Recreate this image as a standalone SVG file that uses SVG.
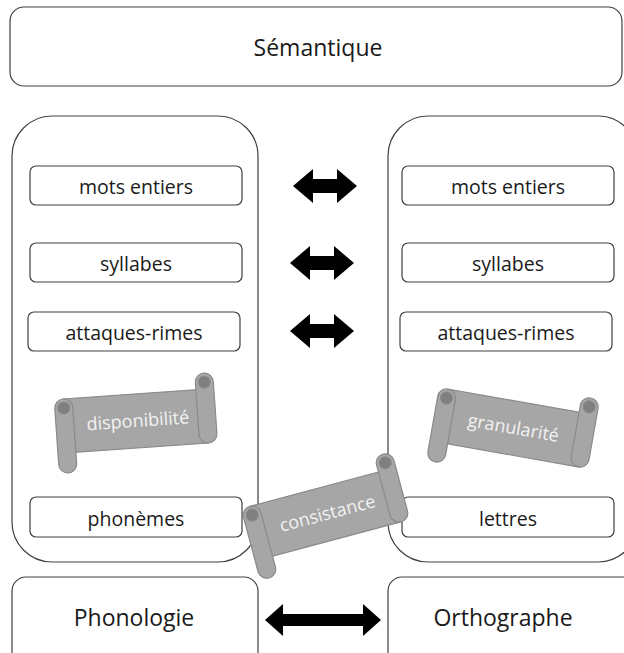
<svg xmlns="http://www.w3.org/2000/svg" width="624" height="653" viewBox="0 0 624 653">
  <style>
    .box { fill: #ffffff; stroke: #404040; stroke-width: 1.2; }
    .lbl { font-family: "Open Sans", "Noto Sans", "Liberation Sans", sans-serif; fill: #1a1a1a; text-anchor: middle; dominant-baseline: central; }
    .big { font-size: 23px; }
    .mid { font-size: 19.5px; }
    .arrow { fill: #000000; }
    .scroll-body { fill: #a6a6a6; stroke: #8a8a8a; stroke-width: 1.2; }
    .scroll-curl { fill: #7f7f7f; stroke: #8a8a8a; stroke-width: 1; }
    .scroll-txt { font-family: "Open Sans", "Noto Sans", "Liberation Sans", sans-serif; font-size: 18px; fill: #f2f2f2; text-anchor: middle; dominant-baseline: central; }
  </style>
  <defs>
    <!-- horizontal scroll banner, centred on the origin -->
    <g id="scroll">
      <rect class="scroll-body" x="-71" y="-29" width="142" height="54"/>
      <rect class="scroll-body" x="62" y="-45" width="18" height="70" rx="9"/>
      <circle class="scroll-curl" cx="71" cy="-36" r="6"/>
      <rect class="scroll-body" x="-80" y="-29" width="18" height="74" rx="9"/>
      <circle class="scroll-curl" cx="-71" cy="-20" r="6"/>
    </g>
    <!-- double-headed block arrow, unit width 64 -->
    <path id="darrow" d="M-32,0 L-12,-17 L-12,-7 L12,-7 L12,-17 L32,0 L12,17 L12,7 L-12,7 L-12,17 Z"/>
  </defs>

  <g id="semantique">
    <rect class="box" x="10" y="7" width="612" height="79" rx="14"/>
    <text class="lbl big" x="318" y="47">Sémantique</text>
  </g>

  <g id="phonologie-col">
    <rect class="box" x="12" y="116" width="246" height="446" rx="40"/>
  </g>
  <g id="orthographe-col">
    <rect class="box" x="388" y="116" width="250" height="446" rx="40"/>
  </g>

  <g id="p-mots">
    <rect class="box" x="30" y="166" width="212" height="39" rx="6"/>
    <text class="lbl mid" x="136" y="186">mots entiers</text>
  </g>
  <g id="p-syllabes">
    <rect class="box" x="30" y="243" width="212" height="39" rx="6"/>
    <text class="lbl mid" x="136" y="263">syllabes</text>
  </g>
  <g id="p-attaques">
    <rect class="box" x="28" y="312" width="212" height="39" rx="6"/>
    <text class="lbl mid" x="134" y="332">attaques-rimes</text>
  </g>
  <g id="p-phonemes">
    <rect class="box" x="30" y="497" width="212" height="40" rx="6"/>
    <text class="lbl mid" x="136" y="518">phonèmes</text>
  </g>

  <g id="o-mots">
    <rect class="box" x="402" y="166" width="212" height="39" rx="6"/>
    <text class="lbl mid" x="508" y="186">mots entiers</text>
  </g>
  <g id="o-syllabes">
    <rect class="box" x="402" y="243" width="212" height="39" rx="6"/>
    <text class="lbl mid" x="508" y="263">syllabes</text>
  </g>
  <g id="o-attaques">
    <rect class="box" x="400" y="312" width="212" height="39" rx="6"/>
    <text class="lbl mid" x="506" y="332">attaques-rimes</text>
  </g>
  <g id="o-lettres">
    <rect class="box" x="402" y="497" width="212" height="40" rx="6"/>
    <text class="lbl mid" x="508" y="518">lettres</text>
  </g>

  <g id="phonologie">
    <rect class="box" x="12" y="577" width="246" height="90" rx="14"/>
    <text class="lbl big" x="134" y="617">Phonologie</text>
  </g>
  <g id="orthographe">
    <rect class="box" x="388" y="577" width="250" height="90" rx="14"/>
    <text class="lbl big" x="503" y="617">Orthographe</text>
  </g>

  <g id="connectors" class="arrow">
    <use href="#darrow" transform="translate(325,186)"/>
    <use href="#darrow" transform="translate(322,263)"/>
    <use href="#darrow" transform="translate(322,331)"/>
    <path d="M265,620 L283,604 L283,614 L363,614 L363,604 L381,620 L363,636 L363,626 L283,626 L283,636 Z"/>
  </g>

  <g id="disponibilite" transform="translate(136,423) rotate(-4)">
    <use href="#scroll"/>
    <text class="scroll-txt" x="2" y="-3">disponibilité</text>
  </g>
  <g id="granularite" transform="translate(513,430) rotate(10)">
    <use href="#scroll"/>
    <text class="scroll-txt" x="0" y="-3">granularité</text>
  </g>
  <g id="consistance" transform="translate(326,516) rotate(-15)">
    <use href="#scroll"/>
    <text class="scroll-txt" x="2" y="-3">consistance</text>
  </g>
</svg>
